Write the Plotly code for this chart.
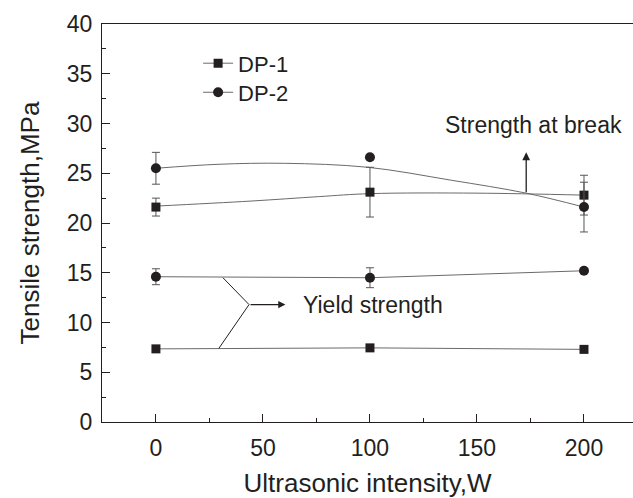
import plotly.graph_objects as go

# ---- data ----
intensity = [0, 100, 200]

dp1_break = [21.6, 23.1, 22.8]
dp1_break_err = [0.9, 2.5, 2.0]
dp2_break = [25.5, 26.6, 21.6]
dp2_break_err = [1.6, 0.0, 2.5]

dp1_yield = [7.35, 7.45, 7.3]
dp2_yield = [14.6, 14.5, 15.2]
dp2_yield_err = [0.8, 1.0, 0.0]

# fitted curves through the strength-at-break data
dp1_fit_x = [0, 44, 76, 100, 150, 200]
dp1_fit_y = [21.7, 22.2, 22.65, 22.95, 23.0, 22.8]
dp2_fit_x = [0, 29, 60, 99, 138, 173, 200]
dp2_fit_y = [25.5, 25.9, 26.0, 25.6, 24.3, 23.0, 21.6]

x_ticks = [0, 50, 100, 150, 200]
y_ticks = [0, 5, 10, 15, 20, 25, 30, 35, 40]

# annotation anchor points (data coordinates)
break_arrow_x = 173
break_arrow_from = 22.95
break_arrow_to = 27.1
break_label = (176.5, 29.8)
yield_top = (31.3, 14.5)
yield_bottom = (29.4, 7.4)
yield_vertex = (43.5, 11.8)
yield_arrow_end = (60.5, 11.8)
yield_label = (68.0, 11.8)

INK = "#231f20"
LINE = "#6a6a6a"
ERR = "#555555"
FONT = "Liberation Sans, Arial, Helvetica, sans-serif"

fig = go.Figure()

# fit curves
fig.add_trace(go.Scatter(x=dp1_fit_x, y=dp1_fit_y, mode="lines", line=dict(color=LINE, width=1, shape="spline"),
                         showlegend=False, hoverinfo="skip"))
fig.add_trace(go.Scatter(x=dp2_fit_x, y=dp2_fit_y, mode="lines", line=dict(color=LINE, width=1, shape="spline"),
                         showlegend=False, hoverinfo="skip"))

# break points
fig.add_trace(go.Scatter(x=intensity, y=dp1_break, mode="markers",
                         marker=dict(symbol="square", size=9, color=INK),
                         error_y=dict(type="data", array=dp1_break_err, color=ERR, thickness=1, width=4),
                         showlegend=False))
fig.add_trace(go.Scatter(x=intensity, y=dp2_break, mode="markers",
                         marker=dict(symbol="circle", size=10, color=INK),
                         error_y=dict(type="data", array=dp2_break_err, color=ERR, thickness=1, width=4),
                         showlegend=False))

# yield points (carry the legends)
fig.add_trace(go.Scatter(x=intensity, y=dp1_yield, mode="lines+markers", name="DP-1",
                         line=dict(color=LINE, width=1),
                         marker=dict(symbol="square", size=9, color=INK), legend="legend"))
fig.add_trace(go.Scatter(x=intensity, y=dp2_yield, mode="lines+markers", name="DP-2",
                         line=dict(color=LINE, width=1),
                         marker=dict(symbol="circle", size=10, color=INK),
                         error_y=dict(type="data", array=dp2_yield_err, color=ERR, thickness=1, width=4),
                         legend="legend2"))

annotations = [
    dict(x=break_arrow_x, y=break_arrow_to, ax=break_arrow_x, ay=break_arrow_from,
         xref="x", yref="y", axref="x", ayref="y", text="", showarrow=True,
         arrowhead=2, arrowsize=1.2, arrowwidth=1.3, arrowcolor=INK),
    dict(x=break_label[0], y=break_label[1], xref="x", yref="y", text="Strength at break",
         showarrow=False, font=dict(size=23, color=INK, family=FONT)),
    dict(x=yield_arrow_end[0], y=yield_arrow_end[1], ax=yield_vertex[0], ay=yield_vertex[1],
         xref="x", yref="y", axref="x", ayref="y", text="", showarrow=True,
         arrowhead=2, arrowsize=1.2, arrowwidth=1.2, arrowcolor=INK),
    dict(x=yield_label[0], y=yield_label[1], xref="x", yref="y", text="Yield strength",
         xanchor="left", showarrow=False, font=dict(size=23, color=INK, family=FONT)),
]

shapes = [
    dict(type="line", xref="x", yref="y", x0=yield_top[0], y0=yield_top[1], x1=yield_vertex[0], y1=yield_vertex[1],
         line=dict(color=INK, width=1)),
    dict(type="line", xref="x", yref="y", x0=yield_bottom[0], y0=yield_bottom[1], x1=yield_vertex[0], y1=yield_vertex[1],
         line=dict(color=INK, width=1)),
]

legend_style = dict(xanchor="left", yanchor="middle", bgcolor="rgba(0,0,0,0)",
                    font=dict(size=22, color=INK, family=FONT))

fig.update_layout(
    width=633, height=498,
    margin=dict(l=102, r=0, t=24, b=76),
    paper_bgcolor="white", plot_bgcolor="white",
    font=dict(family=FONT, color=INK, size=23),
    annotations=annotations, shapes=shapes,
    legend=dict(x=0.181, y=0.901, **legend_style),
    legend2=dict(x=0.181, y=0.828, **legend_style),
    xaxis=dict(range=[-25.2, 222.9], tickvals=x_ticks, ticks="inside", ticklen=8, tickwidth=1.2,
               tickcolor=INK, showline=True, linecolor=INK, linewidth=1.3, mirror=True,
               showgrid=False, zeroline=False, tickfont=dict(size=23), ticklabelstandoff=5,
               minor=dict(dtick=25, tick0=0, ticks="inside", ticklen=4, tickwidth=1.2, tickcolor=INK),
               title=dict(text="Ultrasonic intensity,W", font=dict(size=26), standoff=17)),
    yaxis=dict(range=[0, 40], tickvals=y_ticks, ticks="inside", ticklen=8, tickwidth=1.2,
               tickcolor=INK, showline=True, linecolor=INK, linewidth=1.3,
               showgrid=False, zeroline=False, tickfont=dict(size=23), ticklabelstandoff=4,
               minor=dict(dtick=2.5, tick0=0, ticks="inside", ticklen=4, tickwidth=1.2, tickcolor=INK),
               title=dict(text="Tensile strength,MPa", font=dict(size=26), standoff=19)),
)

fig.write_html("out.html")
